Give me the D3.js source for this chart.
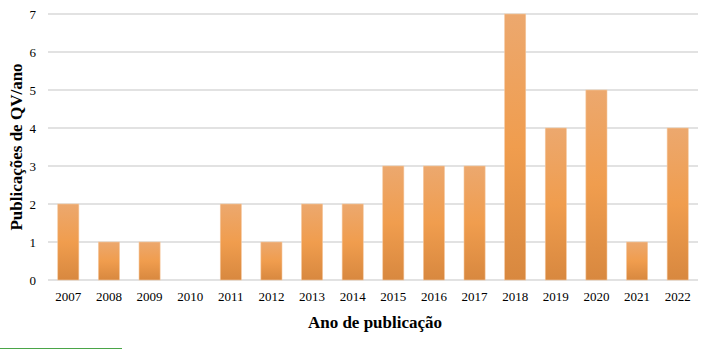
<!DOCTYPE html>
<html>
<head>
<meta charset="utf-8">
<script src="https://cdn.jsdelivr.net/npm/d3@7"></script>
<style>
  body { margin: 0; background: #fff; }
  svg text { font-family: "Liberation Serif", "Times New Roman", serif; }
</style>
</head>
<body>
<div id="chart"></div>
<script>
var anos = ["2007","2008","2009","2010","2011","2012","2013","2014","2015","2016","2017","2018","2019","2020","2021","2022"];
var publicacoes = [2, 1, 1, 0, 2, 1, 2, 2, 3, 3, 3, 7, 4, 5, 1, 4];
var yTicks = [0, 1, 2, 3, 4, 5, 6, 7];

var margin = {top: 14, right: 8, bottom: 70, left: 48},
    width = 706 - margin.left - margin.right,
    height = 350 - margin.top - margin.bottom;

var root = d3.select("#chart").append("svg")
    .attr("width", 706)
    .attr("height", 350);

var defs = root.append("defs");
var grad = defs.append("linearGradient")
    .attr("id", "barGrad")
    .attr("x1", 0).attr("y1", 0).attr("x2", 0).attr("y2", 1);
grad.append("stop").attr("offset", "0%").attr("stop-color", "#eca86e");
grad.append("stop").attr("offset", "50%").attr("stop-color", "#f09d4e");
grad.append("stop").attr("offset", "100%").attr("stop-color", "#d8883f");

var svg = root.append("g")
    .attr("transform", "translate(" + margin.left + "," + margin.top + ")");

var x_scale = d3.scaleBand()
    .domain(anos)
    .range([0, width])
    .paddingInner(0.48)
    .paddingOuter(0.24);

var y_scale = d3.scaleLinear()
    .domain([0, 7])
    .range([height, 0]);

// gridlines
svg.append("g")
    .selectAll("line")
    .data(yTicks)
    .enter().append("line")
    .attr("x1", 0)
    .attr("x2", width)
    .attr("y1", function(d) { return y_scale(d); })
    .attr("y2", function(d) { return y_scale(d); })
    .attr("stroke", "#d9d9d9")
    .attr("stroke-width", 1.5);

// y axis labels
var yAxis = svg.append("g")
    .call(d3.axisLeft(y_scale).tickValues(yTicks).tickFormat(d3.format("d")).tickSize(0).tickPadding(12));
yAxis.attr("font-family", "'Liberation Serif', serif");
yAxis.select(".domain").remove();
yAxis.selectAll("text")
    .style("font-size", "13px")
    .attr("fill", "#000");

// x axis labels
var xAxis = svg.append("g")
    .attr("transform", "translate(0," + height + ")")
    .call(d3.axisBottom(x_scale).tickSize(0).tickPadding(12));
xAxis.attr("font-family", "'Liberation Serif', serif");
xAxis.select(".domain").remove();
xAxis.selectAll("text")
    .style("font-size", "13px")
    .attr("fill", "#000");

// bars
svg.append("g")
    .selectAll("rect")
    .data(publicacoes)
    .enter().append("rect")
    .attr("x", function(d, i) { return x_scale(anos[i]); })
    .attr("y", function(d) { return y_scale(d); })
    .attr("width", x_scale.bandwidth())
    .attr("height", function(d) { return height - y_scale(d); })
    .attr("fill", "url(#barGrad)")
    .attr("stroke", "#f5c9a0")
    .attr("stroke-width", 0.6);

// axis titles
root.append("text")
    .attr("transform", "translate(22," + (margin.top + height / 2) + ") rotate(-90)")
    .attr("text-anchor", "middle")
    .style("font-weight", "bold")
    .style("font-size", "17px")
    .text("Publicações de QV/ano");

root.append("text")
    .attr("x", margin.left + width / 2 + 2)
    .attr("y", 328)
    .attr("text-anchor", "middle")
    .style("font-weight", "bold")
    .style("font-size", "17px")
    .text("Ano de publicação");

// footnote rule
root.append("line")
    .attr("x1", 0).attr("x2", 122)
    .attr("y1", 348.5).attr("y2", 348.5)
    .attr("stroke", "#4aa548")
    .attr("stroke-width", 1.2);
</script>
</body>
</html>
